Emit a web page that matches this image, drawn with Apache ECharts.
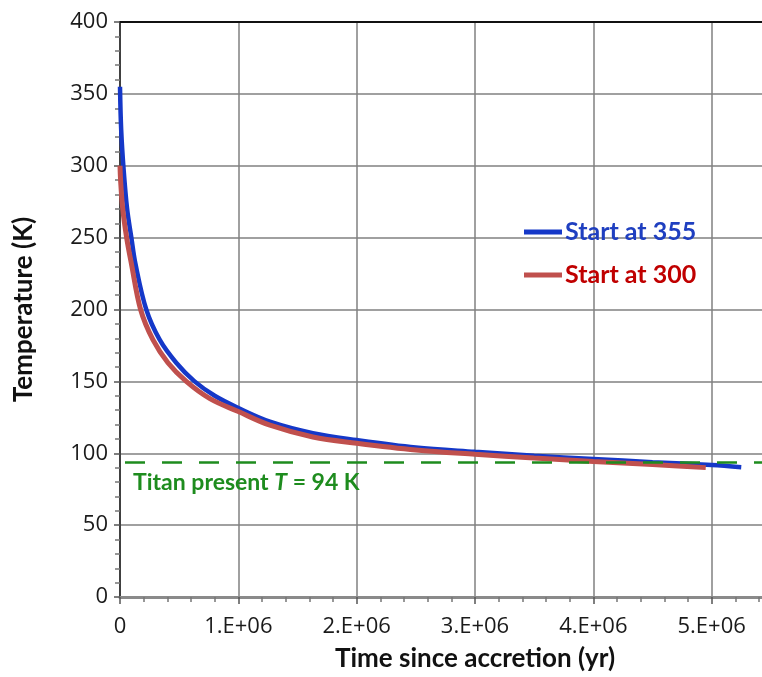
<!DOCTYPE html>
<html>
<head>
<meta charset="utf-8">
<script src="https://cdn.jsdelivr.net/npm/echarts@6/dist/echarts.min.js"></script>
<style>
  html, body { margin: 0; padding: 0; background: #fff; }
  #chart { width: 762px; height: 677px; }
</style>
</head>
<body>
<div id="chart"></div>
<script>
// temperature curves: [time (yr), temperature (K)]
const start355 = [
  [0, 355], [0.01e6, 325], [0.03e6, 298], [0.06e6, 270], [0.096e6, 250],
  [0.13e6, 232], [0.222e6, 200], [0.335e6, 179], [0.475e6, 163], [0.63e6, 150],
  [0.8e6, 140], [1.0e6, 131.5], [1.267e6, 122], [1.63e6, 114], [2.0e6, 109.2],
  [2.5e6, 104], [3.0e6, 101], [3.5e6, 98.3], [4.0e6, 96], [4.5e6, 93.8],
  [5.0e6, 91.8], [5.25e6, 90.3]
];
const start300 = [
  [0, 300], [0.005e6, 290], [0.022e6, 271], [0.056e6, 250], [0.096e6, 232],
  [0.174e6, 200], [0.278e6, 179], [0.405e6, 163], [0.56e6, 150], [0.76e6, 138],
  [1.0e6, 129], [1.267e6, 119.5], [1.63e6, 111.3], [2.0e6, 107], [2.5e6, 102.3],
  [3.0e6, 99.3], [3.5e6, 96.7], [4.0e6, 94.3], [4.5e6, 92.2], [4.95e6, 90]
];
const titanT = 94;
const xMax = 6e6;   // picture is cut off on the right, axis runs past 5.E+06

const chart = echarts.init(document.getElementById('chart'));

const tickFont = { fontFamily: 'Open Sans', fontSize: 22, color: '#1a1a1a' };
const titleFont = { fontFamily: 'Lato', fontWeight: 'bold', fontSize: 26, color: '#111' };

chart.setOption({
  animation: false,
  grid: { left: 120, top: 22, right: -68, bottom: 80, outerBoundsMode: 'none', containLabel: false },
  legend: {
    orient: 'vertical',
    left: 519,
    top: 214,
    icon: 'rect',
    itemWidth: 38,
    itemHeight: 5,
    itemGap: 17,
    textStyle: { fontFamily: 'Lato', fontWeight: 'bold', fontSize: 25, lineHeight: 26, padding: [0, 0, 0, -2] },
    data: [
      { name: 'Start at 355', textStyle: { color: '#1f3fc0' } },
      { name: 'Start at 300', textStyle: { color: '#c00000' } }
    ]
  },
  xAxis: [
    {
      type: 'value',
      min: 0,
      max: xMax,
      interval: 1e6,
      name: 'Time since accretion (yr)',
      nameLocation: 'middle',
      nameGap: 49,
      nameTextStyle: titleFont,
      axisLine: { show: true, lineStyle: { color: '#8a8a8a', width: 3 } },
      axisTick: { show: true, length: 7, lineStyle: { color: '#555', width: 1.5 } },
      minorTick: { show: true, splitNumber: 5, length: 5, lineStyle: { color: '#777', width: 1.5 } },
      axisLabel: Object.assign({
        margin: 19,
        showMaxLabel: false,
        formatter: v => v === 0 ? '0' : (v / 1e6) + '.E+06'
      }, tickFont),
      splitLine: { show: true, lineStyle: { color: '#808080', width: 1.5 } }
    },
    {
      type: 'value',
      position: 'top',
      min: 0,
      max: xMax,
      axisLine: { show: true, onZero: false, lineStyle: { color: '#111', width: 2 } },
      axisTick: { show: false },
      axisLabel: { show: false },
      splitLine: { show: false }
    }
  ],
  yAxis: {
    type: 'value',
    min: 0,
    max: 400,
    interval: 50,
    name: 'Temperature (K)',
    nameLocation: 'middle',
    nameGap: 83,
    nameTextStyle: titleFont,
    axisLine: { show: true, lineStyle: { color: '#404040', width: 2 } },
    axisTick: { show: true, length: 6, lineStyle: { color: '#555', width: 1.5 } },
    minorTick: { show: true, splitNumber: 5, length: 5, lineStyle: { color: '#777', width: 1.5 } },
    axisLabel: Object.assign({ margin: 12 }, tickFont),
    splitLine: { show: true, lineStyle: { color: '#808080', width: 1.5 } }
  },
  series: [
    {
      name: 'Start at 355',
      type: 'line',
      smooth: 0.35,
      showSymbol: false,
      data: start355,
      color: '#1538c8',
      lineStyle: { width: 4.5, color: '#1538c8' },
      markLine: {
        silent: true,
        symbol: 'none',
        lineStyle: { color: '#1e8c1e', width: 2.5, type: [20, 17], dashOffset: -5 },
        label: {
          position: 'insideStartBottom',
          distance: [13, 9],
          formatter: '{a|Titan present }{i|T}{a| = 94 K}',
          rich: {
            a: { fontFamily: 'Lato', fontWeight: 'bold', fontSize: 23, color: '#1e8c1e' },
            i: { fontFamily: 'Lato', fontWeight: 'bold', fontStyle: 'italic', fontSize: 23, color: '#1e8c1e' }
          }
        },
        data: [{ yAxis: titanT }]
      }
    },
    {
      name: 'Start at 300',
      type: 'line',
      smooth: 0.35,
      showSymbol: false,
      data: start300,
      color: '#c0504d',
      lineStyle: { width: 5, color: '#c0504d' }
    }
  ]
});
</script>
</body>
</html>
